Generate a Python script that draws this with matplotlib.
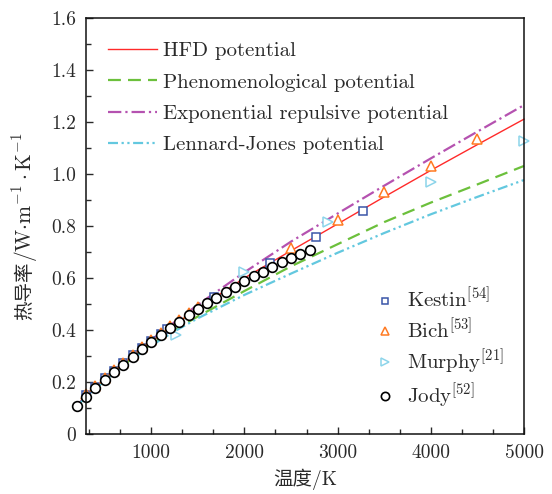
import matplotlib
matplotlib.use("Agg")
import matplotlib.pyplot as plt
from matplotlib.ticker import MultipleLocator, FuncFormatter

plt.rcParams["font.family"] = ["cmr10", "Noto Sans CJK SC", "DejaVu Sans"]
plt.rcParams["mathtext.fontset"] = "cm"
plt.rcParams["axes.formatter.use_mathtext"] = True

# Calculated thermal conductivity for each interaction potential
T_model = [200, 300, 400, 600, 800, 1000, 1250, 1500, 2000, 2500, 3000, 3500, 4000, 4500, 5000]
k_hfd = [0.110, 0.145, 0.178, 0.240, 0.298, 0.356, 0.420, 0.482, 0.600, 0.705, 0.808, 0.912, 1.014, 1.113, 1.211]
k_phen = [0.108, 0.143, 0.175, 0.236, 0.292, 0.345, 0.400, 0.452, 0.550, 0.645, 0.730, 0.815, 0.890, 0.960, 1.031]
k_exp = [0.110, 0.145, 0.178, 0.241, 0.302, 0.362, 0.430, 0.497, 0.622, 0.740, 0.848, 0.955, 1.060, 1.163, 1.265]
k_lj = [0.107, 0.142, 0.174, 0.234, 0.289, 0.340, 0.395, 0.445, 0.535, 0.617, 0.697, 0.773, 0.845, 0.912, 0.977]

# Experimental / reference data
T_kestin = [300, 400, 500, 600, 700, 800, 900, 1000, 1100, 1173, 1673, 2273, 2773, 3273]
k_kestin = [0.150, 0.182, 0.214, 0.244, 0.273, 0.302, 0.330, 0.358, 0.385, 0.403, 0.528, 0.656, 0.757, 0.858]

T_bich = [300, 400, 500, 600, 700, 800, 900, 1000, 1100, 1200, 1300, 1400, 1500,
          2500, 3000, 3500, 4000, 4500]
k_bich = [0.152, 0.185, 0.216, 0.246, 0.275, 0.304, 0.333, 0.361, 0.389, 0.414, 0.440, 0.465, 0.488,
          0.716, 0.824, 0.930, 1.032, 1.134]

T_murphy = [1270, 2000, 2900, 4000, 5000]
k_murphy = [0.382, 0.622, 0.816, 0.968, 1.128]

T_jody = [200, 300, 400, 500, 600, 700, 800, 900, 1000, 1100, 1200, 1300, 1400,
          1500, 1600, 1700, 1800, 1900, 2000, 2100, 2200, 2300, 2400, 2500, 2600, 2700]
k_jody = [0.108, 0.143, 0.176, 0.208, 0.238, 0.267, 0.296, 0.326, 0.354, 0.382, 0.406, 0.432, 0.457,
          0.480, 0.503, 0.524, 0.545, 0.566, 0.587, 0.606, 0.625, 0.643, 0.660, 0.677, 0.693, 0.708]

TXT = "#2a2a2a"

fig = plt.figure(figsize=(5.52, 4.94), dpi=100)
ax = fig.add_axes([86 / 552, 1 - 434 / 494, (524 - 86) / 552, (434 - 18) / 494])

l1, = ax.plot(T_model, k_hfd, color="#ff2a2a", lw=1.0, ls="-", clip_on=False)
l2, = ax.plot(T_model, k_phen, color="#6cc03c", lw=1.6, ls=(0, (5.8, 3.2)), clip_on=False)
l3, = ax.plot(T_model, k_exp, color="#b552b0", lw=1.6, ls=(0, (6, 1.8, 1.0, 1.8)), clip_on=False)
l4, = ax.plot(T_model, k_lj, color="#63c8df", lw=1.6, ls=(0, (4.5, 1.6, 1.0, 1.6, 1.0, 1.6)), clip_on=False)

m1, = ax.plot(T_kestin, k_kestin, ls="none", marker="s", ms=5.5, mfc="white", mec="#3a56a8", mew=1.1, clip_on=False)
m2, = ax.plot(T_bich, k_bich, ls="none", marker="^", ms=7.5, mfc="white", mec="#ff7a22", mew=1.1, clip_on=False)
m3, = ax.plot(T_murphy, k_murphy, ls="none", marker=">", ms=7.5, mfc="white", mec="#8dd5ea", mew=1.1, clip_on=False)
m4, = ax.plot(T_jody, k_jody, ls="none", marker="o", ms=7, mfc="white", mec="black", mew=1.2, clip_on=False)

ax.set_xlim(300, 5000)
ax.set_ylim(0, 1.6)
ax.xaxis.set_major_locator(MultipleLocator(1000))
ax.xaxis.set_minor_locator(MultipleLocator(1000 / 3))
ax.yaxis.set_major_locator(MultipleLocator(0.2))
ax.yaxis.set_minor_locator(MultipleLocator(0.1))
ax.xaxis.set_major_formatter(FuncFormatter(lambda v, p: f"{v:.0f}"))
ax.yaxis.set_major_formatter(FuncFormatter(lambda v, p: "0" if abs(v) < 1e-9 else f"{v:.1f}"))
ax.tick_params(which="both", direction="in", top=False, right=False, labelsize=14, colors=TXT)
ax.tick_params(which="major", length=5, width=1.0, pad=7)
ax.tick_params(which="minor", length=3.5, width=1.0)
for s in ax.spines.values():
    s.set_linewidth(1.1)
    s.set_color("#111111")

ax.set_xlabel("温度/K", fontsize=14, color=TXT, labelpad=5)

# y label: CJK part and the unit (mathtext) drawn as two stacked rotated pieces
yl_cn = fig.text(25 / 552, 0.5, "热导率", rotation=90, ha="center", va="bottom",
                 fontsize=14, color=TXT, family=["Noto Sans CJK SC"])
yl_unit = fig.text(25 / 552, 0.5, "/W$\\cdot$m$^{-1}\\cdot$K$^{-1}$", rotation=90,
                   ha="center", va="bottom", fontsize=15.5, color=TXT)

leg1 = ax.legend([l1, l2, l3, l4],
                 ["HFD potential", "Phenomenological potential",
                  "Exponential repulsive potential", "Lennard-Jones potential"],
                 loc="upper left", bbox_to_anchor=(22 / 438, 0.943), frameon=False,
                 fontsize=15, handlelength=2.35, handletextpad=0.3, labelspacing=0.615,
                 borderaxespad=0, borderpad=0)
for t in leg1.get_texts():
    t.set_color(TXT)
ax.add_artist(leg1)

leg2 = ax.legend([m1, m2, m3, m4],
                 ["Kestin$^{[54]}$", "Bich$^{[53]}$", "Murphy$^{[21]}$", "Jody$^{[52]}$"],
                 loc="lower right", bbox_to_anchor=(0.954, 0.0556), frameon=False,
                 fontsize=15, handlelength=1.0, handletextpad=0.55, labelspacing=0.25,
                 markerscale=0.85, borderaxespad=0, borderpad=0)
for t in leg2.get_texts():
    t.set_color(TXT)

# stack the two y-label pieces, centred on the axes
fig.canvas.draw()
r = fig.canvas.get_renderer()
h_cn = yl_cn.get_window_extent(r).height
h_unit = yl_unit.get_window_extent(r).height
H = fig.bbox.height
centre = H - (18 + 434) / 2
y0 = centre - (h_cn + h_unit) / 2
yl_cn.set_y(y0 / H)
yl_unit.set_y((y0 + h_cn) / H)

fig.savefig("out.png", dpi=100)
